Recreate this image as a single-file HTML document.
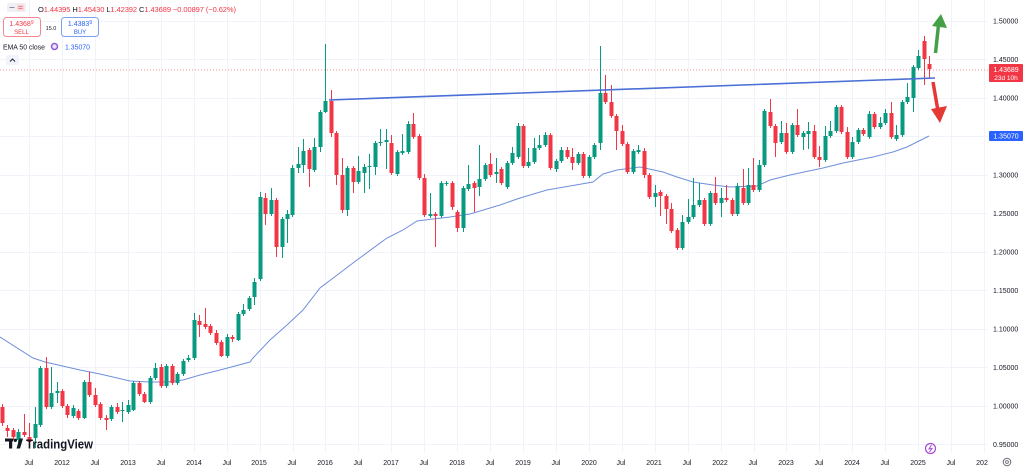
<!DOCTYPE html>
<html><head><meta charset="utf-8"><style>
html,body{margin:0;padding:0;background:#fff;}
svg{display:block;font-family:"Liberation Sans",sans-serif;}
</style></head><body>
<svg width="1024" height="468" viewBox="0 0 1024 468">
<rect x="0" y="0" width="1024" height="468" fill="#ffffff"/>
<g stroke="#f0f3fa" stroke-width="1">
<line x1="0" y1="21.5" x2="988" y2="21.5"/>
<line x1="0" y1="59.5" x2="988" y2="59.5"/>
<line x1="0" y1="98.5" x2="988" y2="98.5"/>
<line x1="0" y1="136.5" x2="988" y2="136.5"/>
<line x1="0" y1="175.5" x2="988" y2="175.5"/>
<line x1="0" y1="213.5" x2="988" y2="213.5"/>
<line x1="0" y1="252.5" x2="988" y2="252.5"/>
<line x1="0" y1="290.5" x2="988" y2="290.5"/>
<line x1="0" y1="329.5" x2="988" y2="329.5"/>
<line x1="0" y1="367.5" x2="988" y2="367.5"/>
<line x1="0" y1="406.5" x2="988" y2="406.5"/>
<line x1="0" y1="444.5" x2="988" y2="444.5"/>
</g>
<g id="vgrid" stroke="#f0f3fa" stroke-width="1"></g>
<!-- EMA -->
<polyline fill="none" stroke="#6f8fdc" stroke-width="1" points="0,337 33,358 45,362 80,370 100,374 130,381 150,382 167,382 183,380 200,375 220,370 250,362 253,358 270,340 287,325 303,310 320,288 357,260 387,238 403,230 417,221 433,219 450,217 470,214 500,205 520,198 547,190 570,186 593,182 603,174 617,170 640,167 663,172 677,177 693,182 713,185 730,187 757,186 770,180 790,175 823,168 843,163 873,157 893,152 907,147 929,136"/>
<!-- current price dotted line -->
<line x1="0" y1="70" x2="988" y2="70" stroke="#f23645" stroke-opacity="0.55" stroke-width="1" stroke-dasharray="1,2"/>
<g id="candles"></g>
<!-- trendline -->
<line x1="329" y1="100" x2="935" y2="78" stroke="#4a6fd6" stroke-width="1.6"/>
<!-- arrows -->
<line x1="935.5" y1="53" x2="938.5" y2="25" stroke="#43a047" stroke-width="3.5"/>
<polygon points="932,26 941,14 947,28" fill="#43a047"/>
<line x1="933" y1="82" x2="938" y2="111" stroke="#e53935" stroke-width="3.5"/>
<polygon points="931,109 947,106 940,123" fill="#e53935"/>
<!-- header -->
<rect x="7" y="3" width="19" height="9" rx="2" fill="#eef0f4"/>
<line x1="9.5" y1="7.5" x2="14.5" y2="7.5" stroke="#8a8f9c" stroke-width="1"/>
<rect x="17" y="4.5" width="7" height="6" rx="1" fill="#f9d6da"/>
<line x1="18.5" y1="6.5" x2="22.5" y2="6.5" stroke="#e06a78" stroke-width="0.8"/>
<line x1="18.5" y1="8.5" x2="22.5" y2="8.5" stroke="#e06a78" stroke-width="0.8"/>
<text x="38" y="12" font-size="7.5" textLength="198" lengthAdjust="spacing"><tspan fill="#131722">O</tspan><tspan fill="#f23645">1.44395 </tspan><tspan fill="#131722">H</tspan><tspan fill="#f23645">1.45430 </tspan><tspan fill="#131722">L</tspan><tspan fill="#f23645">1.42392 </tspan><tspan fill="#131722">C</tspan><tspan fill="#f23645">1.43689 −0.00897 (−0.62%)</tspan></text>
<rect x="3.5" y="17.5" width="37" height="19" rx="3" fill="#fff" stroke="#f28a94" stroke-width="1"/>
<text x="21.5" y="26" font-size="7" fill="#f23645" text-anchor="middle">1.4368<tspan font-size="5" dy="-2">9</tspan></text>
<text x="21.5" y="34" font-size="6" fill="#f23645" text-anchor="middle">SELL</text>
<text x="51" y="30" font-size="5.5" fill="#131722" text-anchor="middle">15.0</text>
<rect x="61.5" y="17.5" width="37" height="19" rx="3" fill="#fff" stroke="#7fa0ef" stroke-width="1"/>
<text x="80" y="26" font-size="7" fill="#2962ff" text-anchor="middle">1.4383<tspan font-size="5" dy="-2">9</tspan></text>
<text x="80" y="34" font-size="6" fill="#2962ff" text-anchor="middle">BUY</text>
<text x="3" y="49.5" font-size="7.5" fill="#131722" textLength="42" lengthAdjust="spacingAndGlyphs">EMA 50 close</text>
<circle cx="54.5" cy="46.5" r="3" fill="#ece3fa" stroke="#8e5bd6" stroke-width="1.5"/>
<text x="65" y="49.5" font-size="7.5" fill="#2962ff" textLength="25" lengthAdjust="spacingAndGlyphs">1.35070</text>
<rect x="6" y="55" width="13" height="10" rx="2" fill="#f0f3fa"/>
<polyline points="10,61.5 12.5,59 15,61.5" fill="none" stroke="#131722" stroke-width="0.9"/>
<!-- price axis -->
<g font-size="7" fill="#131722">
<text x="993" y="23.5">1.50000</text>
<text x="993" y="62">1.45000</text>
<text x="993" y="100.5">1.40000</text>
<text x="993" y="177.5">1.30000</text>
<text x="993" y="216">1.25000</text>
<text x="993" y="254.5">1.20000</text>
<text x="993" y="293">1.15000</text>
<text x="993" y="331.5">1.10000</text>
<text x="993" y="370">1.05000</text>
<text x="993" y="408.5">1.00000</text>
<text x="993" y="447">0.95000</text>
</g>
<rect x="989" y="64" width="34" height="18" rx="1" fill="#f23645"/>
<text x="1006" y="72" font-size="7" fill="#fff" text-anchor="middle">1.43689</text>
<text x="1006" y="80" font-size="6.5" fill="#fff" text-anchor="middle">23d 10h</text>
<rect x="989" y="131" width="34" height="10" rx="1" fill="#2962ff"/>
<text x="1006" y="138.5" font-size="7" fill="#fff" text-anchor="middle">1.35070</text>
<!-- time axis -->
<g font-size="7" fill="#131722" text-anchor="middle">
<text x="29" y="465">Jul</text>
<text x="62" y="465">2012</text>
<text x="95" y="465">Jul</text>
<text x="128" y="465">2013</text>
<text x="161" y="465">Jul</text>
<text x="194" y="465">2014</text>
<text x="227" y="465">Jul</text>
<text x="259" y="465">2015</text>
<text x="292" y="465">Jul</text>
<text x="325" y="465">2016</text>
<text x="358" y="465">Jul</text>
<text x="391" y="465">2017</text>
<text x="424" y="465">Jul</text>
<text x="457" y="465">2018</text>
<text x="490" y="465">Jul</text>
<text x="523" y="465">2019</text>
<text x="556" y="465">Jul</text>
<text x="589" y="465">2020</text>
<text x="621" y="465">Jul</text>
<text x="654" y="465">2021</text>
<text x="687" y="465">Jul</text>
<text x="720" y="465">2022</text>
<text x="753" y="465">Jul</text>
<text x="786" y="465">2023</text>
<text x="819" y="465">Jul</text>
<text x="852" y="465">2024</text>
<text x="885" y="465">Jul</text>
<text x="918" y="465">2025</text>
<text x="951" y="465">Jul</text>
<text x="982" y="465">202</text>
</g>
<circle cx="1007" cy="462" r="3.8" fill="none" stroke="#6a6d78" stroke-width="1"/>
<circle cx="1007" cy="462" r="1.4" fill="none" stroke="#6a6d78" stroke-width="0.9"/>
<!-- lightning -->
<circle cx="930.5" cy="448.5" r="5" fill="#fff" stroke="#a64bd1" stroke-width="1.2"/>
<polyline points="931.5,445 929,449 932,448.5 929.5,452" fill="none" stroke="#a64bd1" stroke-width="1"/>
<!-- logo -->
<g fill="#131722">
<rect x="5" y="438.5" width="8" height="3"/>
<rect x="9" y="438.5" width="3.2" height="10"/>
<circle cx="15.3" cy="440.3" r="1.7"/>
<polygon points="16.5,448.5 19.5,438.5 23,438.5 20,448.5"/>
</g>
<text x="26" y="448.5" font-size="12.5" font-weight="bold" fill="#131722" textLength="67" lengthAdjust="spacingAndGlyphs">TradingView</text>
</svg>
<script>
(function(){
var d=[
[407,404,426,423],[428,425,437,431],[430,428,440,437],[440,429,446,432],[432,414,437,435],[437,423,447,442],[438,407,448,424],[425,366,427,368],[368,357,409,407],[407,367,409,393],[393,382,403,391],
[391,389,408,406],[406,404,418,415],[416,405,418,408],[411,409,420,418],[418,380,419,382],[382,372,397,395],[395,388,407,405],[404,402,420,418],[418,415,430,420],[419,405,421,407],[407,403,414,412],[411,402,422,410],
[412,400,414,405],[410,381,411,383],[383,381,396,394],[394,392,403,402],[402,376,404,378],[378,363,380,368],[367,364,388,386],[386,364,388,366],[366,364,385,383],[383,372,385,374],[374,359,376,361],[360,355,362,358],
[358,313,360,320],[321,315,337,325],[324,308,329,327],[326,324,335,333],[333,330,345,343],[342,340,357,356],[356,334,358,337],[337,335,342,339],[340,312,341,314],[314,304,316,310],[309,296,311,298],[297,278,305,282],
[279,192,281,197],[198,193,225,214],[214,188,216,200],[200,198,257,247],[247,217,258,219],[219,210,243,214],[215,165,217,168],[168,147,173,164],[165,139,173,151],[150,148,187,169],[170,138,172,147],[147,110,152,112],
[112,44,113,101],[101,90,137,133],[133,131,185,175],[175,158,213,210],[210,166,216,168],[168,166,193,182],[182,156,184,171],[173,164,193,167],[167,154,189,166],[167,141,175,143],[143,129,146,142],[142,129,169,140],
[143,135,175,173],[174,150,176,152],[153,134,155,151],[152,121,154,124],[124,113,139,137],[136,134,180,178],[178,174,217,215],[216,193,218,214],[214,212,247,216],[216,181,218,183],[184,181,186,183],[183,181,210,207],
[212,210,232,228],[228,186,232,188],[189,165,191,184],[183,181,212,188],[187,145,196,179],[179,163,181,165],[164,153,177,175],[174,158,183,172],[169,167,185,183],[187,161,189,163],[163,147,165,153],[157,123,159,126],
[126,124,168,166],[166,148,168,162],[162,138,164,148],[148,135,150,145],[145,132,147,135],[135,133,170,168],[169,159,172,161],[161,147,163,150],[150,147,159,157],[157,148,170,163],[163,152,165,154],[154,152,178,176],
[176,155,178,157],[157,143,159,145],[143,46,150,93],[93,75,104,102],[102,85,118,116],[116,114,150,131],[131,125,146,144],[144,142,174,172],[172,149,174,151],[152,145,154,150],[151,148,178,175],[175,173,199,197],
[197,185,207,193],[192,190,216,196],[196,194,224,209],[209,203,233,231],[230,228,250,248],[248,215,250,222],[222,199,224,217],[217,178,219,205],[205,183,207,200],[200,198,226,224],[224,191,226,193],[193,177,205,203],
[203,188,217,198],[198,185,202,200],[200,198,216,214],[214,183,216,186],[188,169,205,203],[203,168,205,185],[185,158,192,190],[190,160,192,165],[165,109,167,111],[112,99,128,126],[126,124,157,143],[142,121,144,133],
[133,123,154,152],[152,123,154,125],[125,109,137,135],[137,131,150,133],[134,122,149,131],[131,125,159,157],[157,146,167,160],[160,126,162,136],[136,121,138,131],[131,105,133,107],[107,105,134,132],[132,127,159,157],
[157,137,159,142],[142,128,144,130],[130,128,136,134],[137,111,139,114],[114,112,129,127],[127,117,129,123],[123,109,125,113],[113,102,139,137],[139,125,141,135],[135,100,137,102],[102,83,104,97],[98,65,112,67],
[68,50,70,56],[41,36,85,59],[64,56,78,69]
];
var s='';
for(var i=0;i<d.length;i++){
var k=i-11;var x=62+k*5.488;var cx=Math.round(x);
var o=d[i][0],h=d[i][1],l=d[i][2],c=d[i][3];
var col=(c<=o)?'#089981':'#f23645';
var top=Math.min(o,c),hh=Math.max(1,Math.abs(o-c));
s+='<rect x="'+cx+'" y="'+h+'" width="1" height="'+(l-h)+'" fill="'+col+'"/>';
s+='<rect x="'+(cx-1.5)+'" y="'+top+'" width="4" height="'+hh+'" fill="'+col+'"/>';
}
document.getElementById('candles').innerHTML=s;
var v='';
for(var n=-1;n<=28;n++){var gx=Math.round(62+n*32.93)+0.5;v+='<line x1="'+gx+'" y1="0" x2="'+gx+'" y2="452"/>';}
document.getElementById('vgrid').innerHTML=v;
})();
</script>
</body></html>
